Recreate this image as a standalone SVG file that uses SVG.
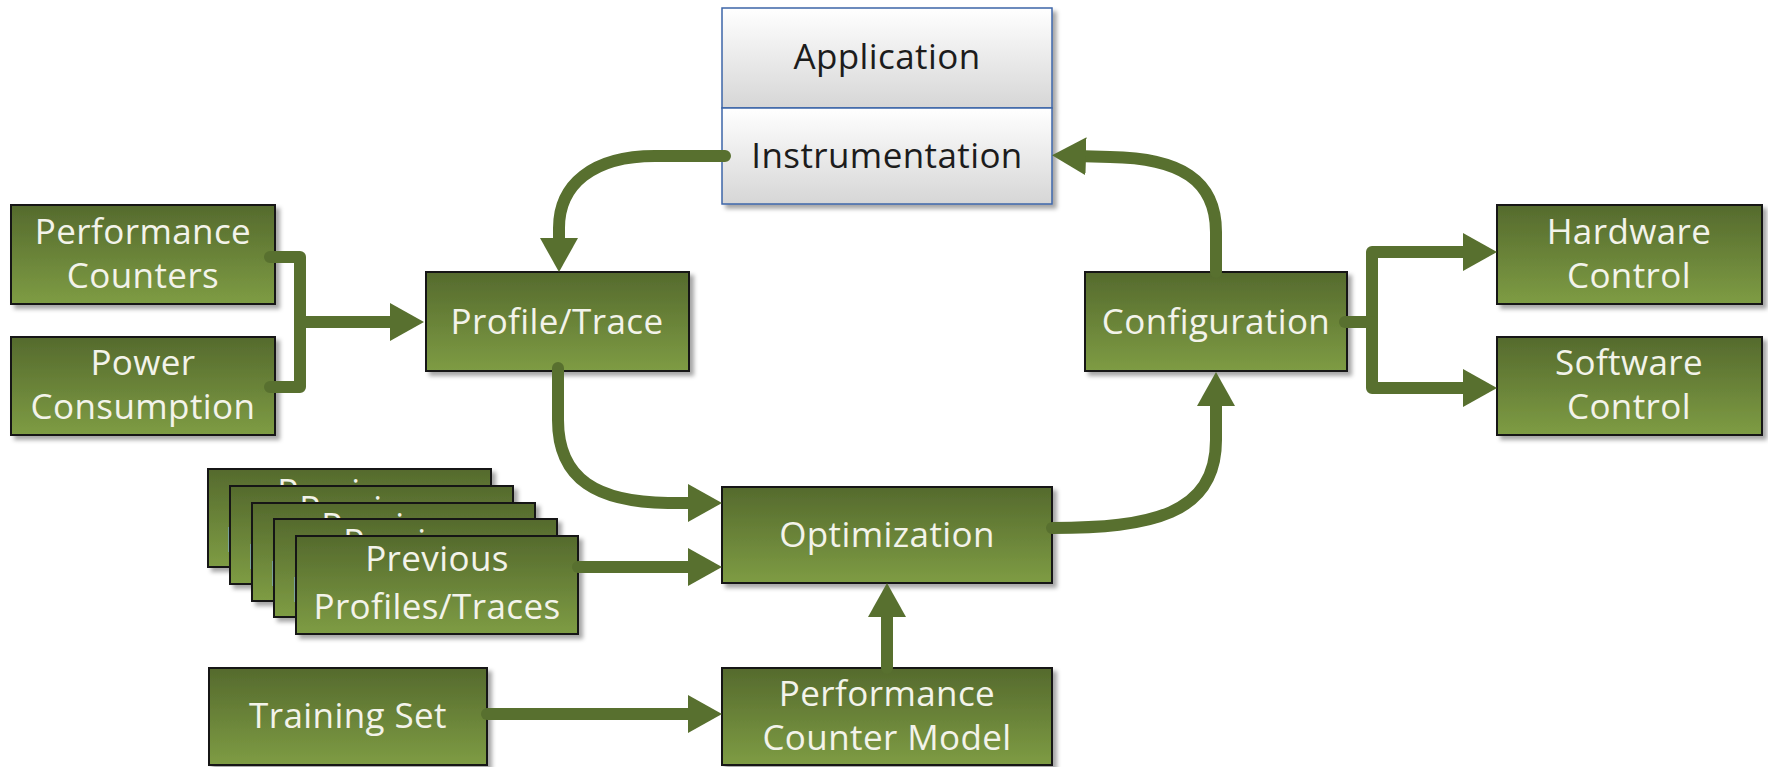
<svg xmlns="http://www.w3.org/2000/svg" width="1768" height="767" viewBox="0 0 1768 767">
  <defs>
    <linearGradient id="green" x1="0" y1="0" x2="0" y2="1">
      <stop offset="0" stop-color="#556a2d"/>
      <stop offset="1" stop-color="#7e9c44"/>
    </linearGradient>
    <linearGradient id="silver" x1="0" y1="0" x2="0" y2="1">
      <stop offset="0" stop-color="#ffffff"/>
      <stop offset="1" stop-color="#d6d6d6"/>
    </linearGradient>
    <filter id="shadow" x="-10%" y="-10%" width="130%" height="130%">
      <feDropShadow dx="4" dy="4" stdDeviation="2" flood-color="#000" flood-opacity="0.35"/>
    </filter>
    <marker id="arrow" markerUnits="userSpaceOnUse" viewBox="0 -20 34 40" refX="10" refY="0" markerWidth="34" markerHeight="40" orient="auto">
      <path d="M0,-19 L34,0 L0,19 Z" fill="#58702f"/>
    </marker>
    <style>
      .box { fill: url(#green); stroke: #141414; stroke-width: 2; filter: url(#shadow); }
      .lbl { font-family: "Open Sans", "Noto Sans", "Liberation Sans", sans-serif; font-size: 35px; letter-spacing: 0.4px; fill: #f3f3ea; text-anchor: middle; }
      .dark { fill: #1c1c1c; }
      .wire { fill: none; stroke: #58702f; stroke-width: 12; stroke-linecap: round; stroke-linejoin: round; }
    </style>
  </defs>

  <rect width="1768" height="767" fill="#ffffff"/>

  <!-- Application / Instrumentation -->
  <g id="application">
    <g filter="url(#shadow)">
      <rect x="722" y="8" width="330" height="100" fill="url(#silver)" stroke="#3d66a8" stroke-width="1.5"/>
      <rect x="722" y="108" width="330" height="96" fill="url(#silver)" stroke="#3d66a8" stroke-width="1.5"/>
    </g>
    <text class="lbl dark" x="887" y="69">Application</text>
    <text class="lbl dark" x="887" y="168">Instrumentation</text>
  </g>

  <g id="performance-counters">
    <rect class="box" x="11" y="205" width="264" height="99"/>
    <text class="lbl" x="143" y="244">Performance</text>
    <text class="lbl" x="143" y="288">Counters</text>
  </g>

  <g id="power-consumption">
    <rect class="box" x="11" y="337" width="264" height="98"/>
    <text class="lbl" x="143" y="375">Power</text>
    <text class="lbl" x="143" y="419">Consumption</text>
  </g>

  <g id="profile-trace">
    <rect class="box" x="426" y="272" width="263" height="99"/>
    <text class="lbl" x="557" y="334">Profile/Trace</text>
  </g>

  <g id="configuration">
    <rect class="box" x="1085" y="272" width="262" height="99"/>
    <text class="lbl" x="1216" y="334">Configuration</text>
  </g>

  <g id="hardware-control">
    <rect class="box" x="1497" y="205" width="265" height="99"/>
    <text class="lbl" x="1629" y="244">Hardware</text>
    <text class="lbl" x="1629" y="288">Control</text>
  </g>

  <g id="software-control">
    <rect class="box" x="1497" y="337" width="265" height="98"/>
    <text class="lbl" x="1629" y="375">Software</text>
    <text class="lbl" x="1629" y="419">Control</text>
  </g>

  <g id="optimization">
    <rect class="box" x="722" y="487" width="330" height="96"/>
    <text class="lbl" x="887" y="547">Optimization</text>
  </g>

  <!-- stacked previous profiles -->
  <g id="previous-profiles">
    <rect class="box" x="208" y="469" width="283" height="98"/>
    <text class="lbl" x="349" y="504">Previous</text>
    <text class="lbl" x="349" y="552">Profiles/Traces</text>
    <rect class="box" x="230" y="486" width="283" height="98"/>
    <text class="lbl" x="371" y="521">Previous</text>
    <text class="lbl" x="371" y="569">Profiles/Traces</text>
    <rect class="box" x="252" y="503" width="283" height="98"/>
    <text class="lbl" x="393" y="538">Previous</text>
    <text class="lbl" x="393" y="586">Profiles/Traces</text>
    <rect class="box" x="274" y="519" width="283" height="98"/>
    <text class="lbl" x="415" y="554">Previous</text>
    <text class="lbl" x="415" y="602">Profiles/Traces</text>
    <rect class="box" x="296" y="536" width="282" height="98"/>
    <text class="lbl" x="437" y="571">Previous</text>
    <text class="lbl" x="437" y="619">Profiles/Traces</text>
  </g>

  <g id="training-set">
    <rect class="box" x="209" y="668" width="278" height="97"/>
    <text class="lbl" x="348" y="728">Training Set</text>
  </g>

  <g id="performance-counter-model">
    <rect class="box" x="722" y="668" width="330" height="97"/>
    <text class="lbl" x="887" y="706">Performance</text>
    <text class="lbl" x="887" y="750">Counter Model</text>
  </g>

  <!-- connectors -->
  <g id="connectors">
    <path class="wire" d="M270,257 L300,257 L300,387 L270,387"/>
    <path class="wire" d="M300,322 L400,322" marker-end="url(#arrow)"/>
    <path class="wire" d="M725,156 L655,156 C592,156 559,185 559,228 L559,248" marker-end="url(#arrow)"/>
    <path class="wire" d="M558,368 L558,420 C558,480 598,502 668,503 L698,503" marker-end="url(#arrow)"/>
    <path class="wire" d="M578,567 L698,567" marker-end="url(#arrow)"/>
    <path class="wire" d="M487,714 L698,714" marker-end="url(#arrow)"/>
    <path class="wire" d="M887,668 L887,607" marker-end="url(#arrow)"/>
    <path class="wire" d="M1052,528 C1150,528 1216,515 1216,440 L1216,396" marker-end="url(#arrow)"/>
    <path class="wire" d="M1216,272 L1216,232 C1216,180 1180,158 1110,157 L1076,156" marker-end="url(#arrow)"/>
    <path class="wire" d="M1345,322 L1372,322"/>
    <path class="wire" d="M1372,322 L1372,252 L1473,252" marker-end="url(#arrow)"/>
    <path class="wire" d="M1372,322 L1372,388 L1473,388" marker-end="url(#arrow)"/>
  </g>
</svg>
